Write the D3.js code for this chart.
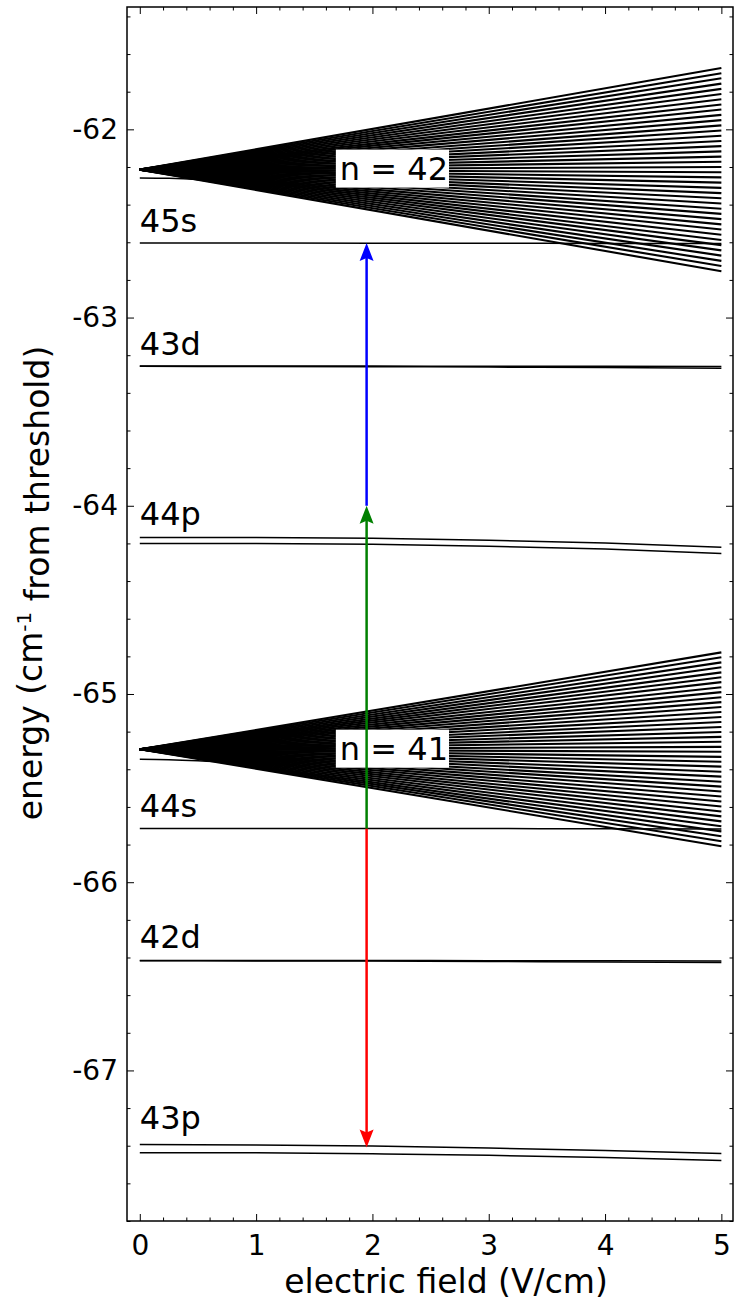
<!DOCTYPE html>
<html lang="en">
<head>
	<meta charset="utf-8">
	<title>Stark map</title>
	<script src='https://d3js.org/d3.v7.min.js'></script>
	<style>
		body { margin: 0; background: #fff; }
		text { font-family: "DejaVu Sans", sans-serif; }
	</style>
</head>
<body>
	<div id="chart"></div>
	<script>
		// field values (V/cm) where the low-l levels are sampled
		let fields = [0, 1, 2, 3, 4, 5];
		// low-l levels, energies (cm-1) at each field value
		let s45 = [-62.604, -62.604, -62.605, -62.605, -62.606, -62.606];
		let d43a = [-63.258, -63.258, -63.258, -63.259, -63.259, -63.260];
		let d43b = [-63.259, -63.260, -63.261, -63.263, -63.266, -63.269];
		let p44a = [-64.168, -64.169, -64.173, -64.183, -64.198, -64.221];
		let p44b = [-64.200, -64.201, -64.205, -64.215, -64.230, -64.253];
		let s44 = [-65.714, -65.714, -65.715, -65.715, -65.716, -65.717];
		let d42a = [-66.416, -66.416, -66.416, -66.417, -66.417, -66.418];
		let d42b = [-66.417, -66.418, -66.419, -66.421, -66.424, -66.427];
		let p43a = [-67.394, -67.396, -67.402, -67.412, -67.425, -67.442];
		let p43b = [-67.437, -67.438, -67.443, -67.451, -67.463, -67.479];

		// Stark manifolds: common zero-field energy and energies at 5 V/cm
		let fanField = [0, 5];
		let n42Origin = -62.214;
		let n42Ends = [-61.674, -61.702, -61.729, -61.757, -61.785, -61.812, -61.840, -61.868, -61.895, -61.923,
			-61.951, -61.979, -62.006, -62.034, -62.062, -62.089, -62.117, -62.145, -62.172, -62.200,
			-62.228, -62.255, -62.283, -62.311, -62.339, -62.366, -62.394, -62.422, -62.449, -62.477,
			-62.505, -62.532, -62.560, -62.588, -62.615, -62.643, -62.671, -62.699, -62.726, -62.754];
		let n41Origin = -65.294;
		let n41Ends = [-64.779, -64.805, -64.832, -64.858, -64.885, -64.911, -64.937, -64.964, -64.990, -65.017,
			-65.043, -65.069, -65.096, -65.122, -65.149, -65.175, -65.202, -65.228, -65.254, -65.281,
			-65.307, -65.334, -65.360, -65.386, -65.413, -65.439, -65.466, -65.492, -65.518, -65.545,
			-65.571, -65.598, -65.624, -65.650, -65.677, -65.703, -65.730, -65.756, -65.782, -65.809];
		// the extra state that bends into the bottom of each manifold
		let lowField = [0, 0.25, 0.5, 0.75, 1.0];
		let n42Low = [-62.258, -62.260, -62.266, -62.276, -62.290];
		let n41Low = [-65.347, -65.349, -65.355, -65.364, -65.378];

		// level labels and the energy of their baseline
		let levelNames = ["45s", "43d", "44p", "44s", "42d", "43p"];
		let levelLabelE = [-62.547, -63.201, -64.104, -65.656, -66.352, -67.310];
		// manifold labels
		let nNames = ["n = 42", "n = 41"];
		let nLabelF = [1.72, 1.72];
		let nLabelE = [-62.267, -65.349];

		// excitation arrows
		let arrowField = 1.95;
		let arrowFrom = [-65.714, -65.714, -64.000];
		let arrowTo = [-67.410, -64.000, -62.604];

		// axis ticks
		let xTicks = [0, 1, 2, 3, 4, 5];
		let yTicks = [-67, -66, -65, -64, -63, -62];

		let width = 734;
		let height = 1305;
		let pLeft = 127, pRight = 733, pTop = 7, pBottom = 1221;

		let svg = d3.select("#chart")
			.append("svg")
			.attr("width", width)
			.attr("height", height);

		let x = d3.scaleLinear().domain([-0.11, 5.1]).range([pLeft, pRight]);
		let y = d3.scaleLinear().domain([-67.8, -61.35]).range([pBottom, pTop]);

		let line = d3.line()
			.x(d => x(d.f))
			.y(d => y(d.e))
			.curve(d3.curveMonotoneX);

		function pts(fs, es) {
			return fs.map((f, i) => ({ f: f, e: es[i] }));
		}

		let plot = svg.append("g");

		// manifold fans
		[[n42Origin, n42Ends], [n41Origin, n41Ends]].forEach(function (m) {
			plot.selectAll(null)
				.data(m[1])
				.enter()
				.append("path")
				.attr("d", e => line(pts(fanField, [m[0], e])))
				.attr("fill", "none")
				.attr("stroke", "black")
				.attr("stroke-width", 2.1);
		});

		// low-l levels
		let levels = [s45, d43a, d43b, p44a, p44b, s44, d42a, d42b, p43a, p43b];
		plot.selectAll(null)
			.data(levels)
			.enter()
			.append("path")
			.attr("d", es => line(pts(fields, es)))
			.attr("fill", "none")
			.attr("stroke", "black")
			.attr("stroke-width", 1.5);

		plot.selectAll(null)
			.data([n42Low, n41Low])
			.enter()
			.append("path")
			.attr("d", es => line(pts(lowField, es)))
			.attr("fill", "none")
			.attr("stroke", "black")
			.attr("stroke-width", 1.5);

		// level labels
		plot.selectAll(null)
			.data(levelNames)
			.enter()
			.append("text")
			.attr("x", x(0))
			.attr("y", (d, i) => y(levelLabelE[i]))
			.style("font-size", "32px")
			.text(d => d);

		// n labels with white box
		nNames.forEach(function (name, i) {
			let g = plot.append("g");
			let rect = g.append("rect").attr("fill", "white");
			let t = g.append("text")
				.attr("x", x(nLabelF[i]))
				.attr("y", y(nLabelE[i]))
				.style("font-size", "32px")
				.text(name);
			let bb = t.node().getBBox();
			rect.attr("x", bb.x - 4)
				.attr("y", bb.y)
				.attr("width", bb.width + 5)
				.attr("height", bb.height);
		});

		// arrows
		let arrowColors = ["#ff0000", "#008000", "#0000ff"];
		let headLen = 18, headHalf = 7;
		arrowFrom.forEach(function (e0, i) {
			let ax = x(arrowField);
			let y0 = y(e0), y1 = y(arrowTo[i]);
			let dir = y1 > y0 ? 1 : -1;
			plot.append("line")
				.attr("x1", ax).attr("x2", ax)
				.attr("y1", y0).attr("y2", y1 - dir * (headLen - 4))
				.attr("stroke", arrowColors[i])
				.attr("stroke-width", 2.5);
			plot.append("path")
				.attr("d", "M" + ax + "," + y1 +
					"L" + (ax - headHalf) + "," + (y1 - dir * headLen) +
					"L" + ax + "," + (y1 - dir * (headLen - 3)) +
					"L" + (ax + headHalf) + "," + (y1 - dir * headLen) + "Z")
				.attr("fill", arrowColors[i]);
		});

		// axes with inward ticks
		let xMinor = d3.range(0, 5.01, 0.2).filter(v => Math.abs(v - Math.round(v)) > 1e-6);
		let yMinor = d3.range(-67.8, -61.3, 0.2).filter(v => Math.abs(v - Math.round(v)) > 1e-6);

		function styleAxis(g) {
			g.select(".domain").remove();
			g.selectAll("line").attr("stroke", "black").attr("stroke-width", 1);
			g.selectAll("text").style("font-size", "28px").attr("fill", "black")
				.style("font-family", "'DejaVu Sans', sans-serif");
		}

		svg.append("g").attr("transform", "translate(0," + pBottom + ")")
			.call(d3.axisBottom(x).tickValues(xTicks).tickSize(-7).tickPadding(14).tickFormat(d => String(d)))
			.call(styleAxis);
		svg.append("g").attr("transform", "translate(0," + pBottom + ")")
			.call(d3.axisBottom(x).tickValues(xMinor).tickSize(-3.5).tickFormat(""))
			.call(styleAxis);
		svg.append("g").attr("transform", "translate(0," + pTop + ")")
			.call(d3.axisTop(x).tickValues(xTicks).tickSize(-7).tickFormat(""))
			.call(styleAxis);
		svg.append("g").attr("transform", "translate(0," + pTop + ")")
			.call(d3.axisTop(x).tickValues(xMinor).tickSize(-3.5).tickFormat(""))
			.call(styleAxis);
		svg.append("g").attr("transform", "translate(" + pLeft + ",0)")
			.call(d3.axisLeft(y).tickValues(yTicks).tickSize(-7).tickPadding(9).tickFormat(d => String(d)))
			.call(styleAxis);
		svg.append("g").attr("transform", "translate(" + pLeft + ",0)")
			.call(d3.axisLeft(y).tickValues(yMinor).tickSize(-3.5).tickFormat(""))
			.call(styleAxis);
		svg.append("g").attr("transform", "translate(" + pRight + ",0)")
			.call(d3.axisRight(y).tickValues(yTicks).tickSize(-7).tickFormat(""))
			.call(styleAxis);
		svg.append("g").attr("transform", "translate(" + pRight + ",0)")
			.call(d3.axisRight(y).tickValues(yMinor).tickSize(-3.5).tickFormat(""))
			.call(styleAxis);

		// frame
		svg.append("rect")
			.attr("x", pLeft).attr("y", pTop)
			.attr("width", pRight - pLeft).attr("height", pBottom - pTop)
			.attr("fill", "none")
			.attr("stroke", "black")
			.attr("stroke-width", 1.5);

		// axis titles
		svg.append("text")
			.attr("x", 446)
			.attr("y", 1293)
			.attr("text-anchor", "middle")
			.style("font-size", "33px")
			.text("electric field (V/cm)");

		let yt = svg.append("text")
			.attr("transform", "translate(42,583) rotate(-90)")
			.attr("text-anchor", "middle")
			.style("font-size", "33px");
		yt.append("tspan").text("energy (cm");
		yt.append("tspan").attr("dy", "-0.55em").style("font-size", "20px").text("-1");
		yt.append("tspan").attr("dy", "0.55em").text(" from threshold)");
	</script>
</body>
</html>
